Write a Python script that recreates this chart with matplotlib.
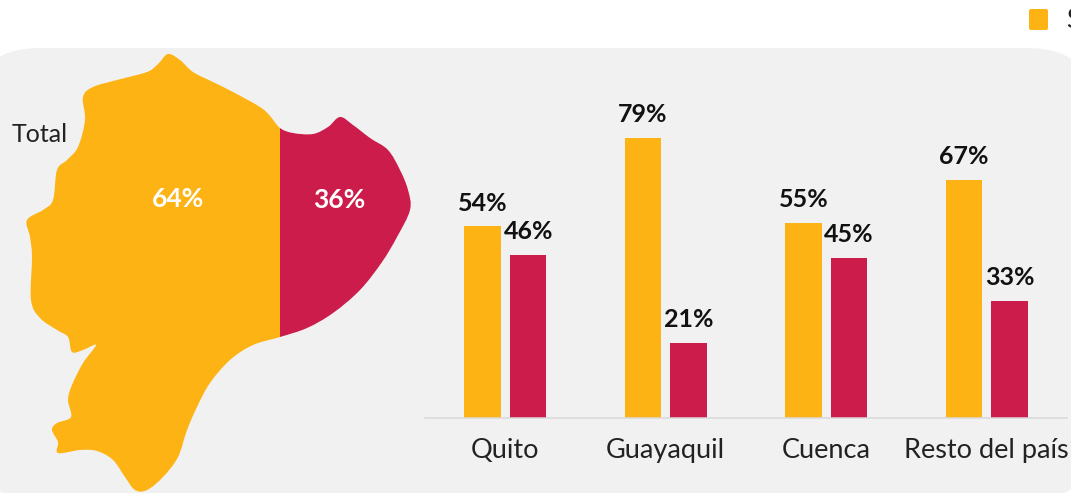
import matplotlib
matplotlib.use("Agg")
import matplotlib.pyplot as plt
from matplotlib.patches import FancyBboxPatch, PathPatch, Rectangle
from matplotlib.path import Path

W, H = 1071, 493
ORANGE, RED, BG = "#FDB313", "#CB1C4B", "#F1F1F1"
FONT = ["Lato", "DejaVu Sans"]

categories = ["Quito", "Guayaquil", "Cuenca", "Resto del país"]
series_a = [54, 79, 55, 67]
series_b = [46, 21, 45, 33]
total_a, total_b = 64, 36
legend_label = "S"

map_outline = [(168,54),(180,60),(193,72),(213,82),(233,92),(260,107),(270,116),(280,128),
    (293,133),(313,134),(328,127),(340,117),(353,125),(370,138),(388,150),(400,170),
    (408,190),(410,210),(397,237),(382,262),(360,290),(333,313),(307,328),(280,337),
    (253,345),(230,360),(210,383),(197,407),(187,430),(178,457),(163,477),(147,490),
    (135,490),(125,477),(113,460),(97,451),(80,450),(58,453),(58,442),(52,430),(57,423),
    (71,417),(68,400),(72,385),(83,363),(96,345),(83,350),(72,352),(68,337),(57,330),
    (40,318),(31,300),(32,257),(30,237),(27,220),(43,210),(53,200),(57,170),(67,160),
    (78,147),(85,120),(83,97),(93,87),(117,80),(147,72),(158,64)]


def smooth_closed(pts, k=0.17):
    """Closed Catmull-Rom style outline through the traced points."""
    n = len(pts)
    verts, codes = [pts[0]], [Path.MOVETO]
    for i in range(n):
        p0, p1, p2, p3 = pts[i-1], pts[i], pts[(i+1) % n], pts[(i+2) % n]
        verts += [(p1[0]+k*(p2[0]-p0[0]), p1[1]+k*(p2[1]-p0[1])),
                  (p2[0]-k*(p3[0]-p1[0]), p2[1]-k*(p3[1]-p1[1])), p2]
        codes += [Path.CURVE4]*3
    return Path(verts, codes)


fig = plt.figure(figsize=(W/100, H/100), dpi=100, facecolor="white")
bg = fig.add_axes([0, 0, 1, 1])
bg.set_xlim(0, W); bg.set_ylim(H, 0); bg.axis("off")

bg.add_patch(FancyBboxPatch((-30, 48), 1127, 452, boxstyle="round,pad=0,rounding_size=70",
                            fc=BG, ec="none", clip_on=True))
bg.add_patch(FancyBboxPatch((1029, 9), 19, 21, boxstyle="round,pad=0,rounding_size=2",
                            fc=ORANGE, ec="none"))
bg.text(1066, 20, legend_label, fontsize=19, family=FONT, va="center", ha="left", color="#222222")

split = 280
outline = smooth_closed(map_outline)
for color, x0, x1 in ((ORANGE, 0, split), (RED, split, W)):
    shape = PathPatch(outline, fc=color, ec="none")
    bg.add_patch(shape)
    shape.set_clip_path(Rectangle((x0, 0), x1-x0, H, transform=bg.transData))

bg.text(40, 135, "Total", fontsize=18, family=FONT, ha="center", va="center", color="#222222")
bg.text(178, 199, f"{total_a}%", fontsize=19, family=FONT, weight="bold", color="white", ha="center", va="center")
bg.text(339, 200, f"{total_b}%", fontsize=19, family=FONT, weight="bold", color="white", ha="center", va="center")

ax_left, ax_right, base = 425, 1067, 417.5
ymax = 100
ax_h = ymax * 3.54
ax = fig.add_axes([ax_left/W, (H-base)/H, (ax_right-ax_left)/W, ax_h/H], facecolor="none")
xs = list(range(len(categories)))
off, bw = 0.143, 0.227
ba = ax.bar([x-off for x in xs], series_a, bw, color=ORANGE)
bb = ax.bar([x+off for x in xs], series_b, bw, color=RED)
for bars in (ba, bb):
    for r in bars:
        ax.annotate(f"{r.get_height():.0f}%", (r.get_x()+r.get_width()/2, r.get_height()),
                    xytext=(0, 16.8), textcoords="offset points", ha="center", va="center",
                    fontsize=18, family=FONT, weight="bold", color="#111111")
ax.set_xlim(-0.5, 3.5); ax.set_ylim(0, ymax)
ax.set_xticks(xs, categories, fontsize=19.5, family=FONT, color="#222222")
ax.tick_params(axis="x", length=0, pad=15)
ax.set_yticks([])
for s in ("top", "left", "right"):
    ax.spines[s].set_visible(False)
ax.spines["bottom"].set_color("#D9D9D9"); ax.spines["bottom"].set_linewidth(1.1)

fig.savefig("out.png", dpi=100)
